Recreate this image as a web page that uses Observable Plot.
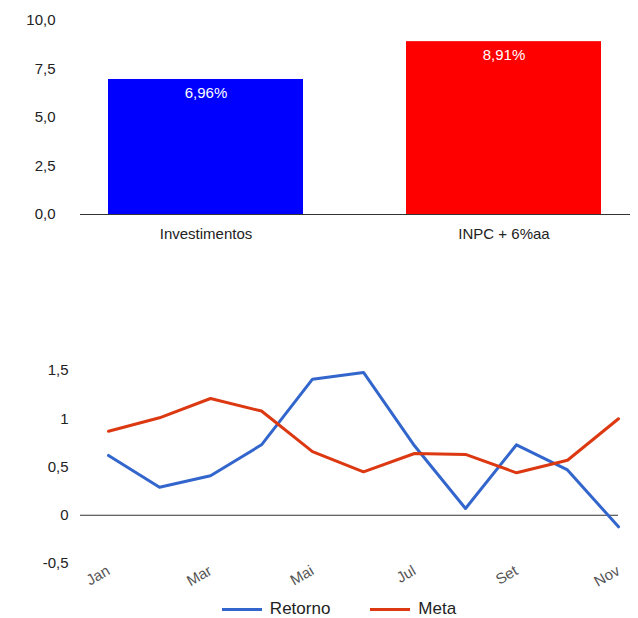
<!DOCTYPE html>
<html>
<head>
<meta charset="utf-8">
<script src="https://cdn.jsdelivr.net/npm/d3@7"></script>
<script src="https://cdn.jsdelivr.net/npm/@observablehq/plot@0.6"></script>
<style>
  body { margin: 0; font-family: "Liberation Sans", Arial, sans-serif; background: #fff; }
  #legend { display: flex; justify-content: center; gap: 40px; font-size: 17px; color: #222; height: 18px; line-height: 18px; margin-left: 40px; }
  .sw { display: inline-block; width: 40px; height: 3px; vertical-align: middle; margin-right: 8px; }
</style>
</head>
<body>
<div id="top"></div>
<div id="bottom"></div>
<div id="legend">
  <span><span class="sw" style="background:#3366cc"></span>Retorno</span>
  <span><span class="sw" style="background:#dc3912"></span>Meta</span>
</div>
<script>
const categories = ["Investimentos", "INPC + 6%aa"];
const barValues = [6.96, 8.91];
const barColors = ["#0000ff", "#ff0000"];

const months = ["Jan", "Fev", "Mar", "Abr", "Mai", "Jun", "Jul", "Ago", "Set", "Out", "Nov"];
const retorno = [0.62, 0.29, 0.41, 0.73, 1.41, 1.48, 0.72, 0.07, 0.73, 0.47, -0.12];
const meta = [0.87, 1.01, 1.21, 1.08, 0.66, 0.45, 0.64, 0.63, 0.44, 0.57, 1.0];

const comma = f => v => d3.format(f)(v).replace(".", ",").replace("−", "-");

const bars = categories.map((c, i) => ({ cat: c, value: barValues[i], color: barColors[i] }));

const barChart = Plot.plot({
  width: 638, height: 260,
  marginTop: 20, marginBottom: 46, marginLeft: 80, marginRight: 8,
  style: { fontFamily: "Liberation Sans, Arial, sans-serif", fontSize: "15px", color: "#222" },
  x: { domain: categories, paddingInner: 0.345, paddingOuter: 0.095, label: null, tickSize: 0, tickPadding: 14 },
  y: { domain: [0, 10], ticks: [0, 2.5, 5, 7.5, 10], tickFormat: comma(".1f"), label: null, tickSize: 0, tickPadding: 25 },
  marks: [
    Plot.barY(bars, { x: "cat", y: "value", fill: "color" }),
    Plot.text(bars, { x: "cat", y: "value", text: d => comma(".2f")(d.value) + "%", dy: 14, fill: "white", fontSize: 15 }),
    Plot.ruleY([0], { stroke: "#333" })
  ]
});
d3.select("#top").append(() => barChart);

const lines = [
  ...months.map((m, i) => ({ month: m, value: retorno[i], serie: "Retorno" })),
  ...months.map((m, i) => ({ month: m, value: meta[i], serie: "Meta" }))
];

const lineChart = Plot.plot({
  width: 638, height: 340,
  marginTop: 110, marginBottom: 37, marginLeft: 80, marginRight: 20,
  style: { fontFamily: "Liberation Sans, Arial, sans-serif", fontSize: "15px", color: "#222" },
  x: { type: "point", domain: months, padding: 0, insetLeft: 27, label: null, tickSize: 0,
       ticks: months.filter((m, i) => i % 2 === 0), tickRotate: -30, tickPadding: 6 },
  y: { domain: [-0.5, 1.5], ticks: [-0.5, 0, 0.5, 1, 1.5], tickFormat: v => String(v).replace(".", ","),
       label: null, tickSize: 0, tickPadding: 12 },
  color: { domain: ["Retorno", "Meta"], range: ["#3366cc", "#dc3912"] },
  marks: [
    Plot.ruleY([0], { stroke: "#333" }),
    Plot.line(lines, { x: "month", y: "value", z: "serie", stroke: "serie", strokeWidth: 3 })
  ]
});
d3.select("#bottom").append(() => lineChart);
d3.select(lineChart).selectAll("[aria-label='x-axis tick label'] text").attr("fill", "#555");
</script>
</body>
</html>
